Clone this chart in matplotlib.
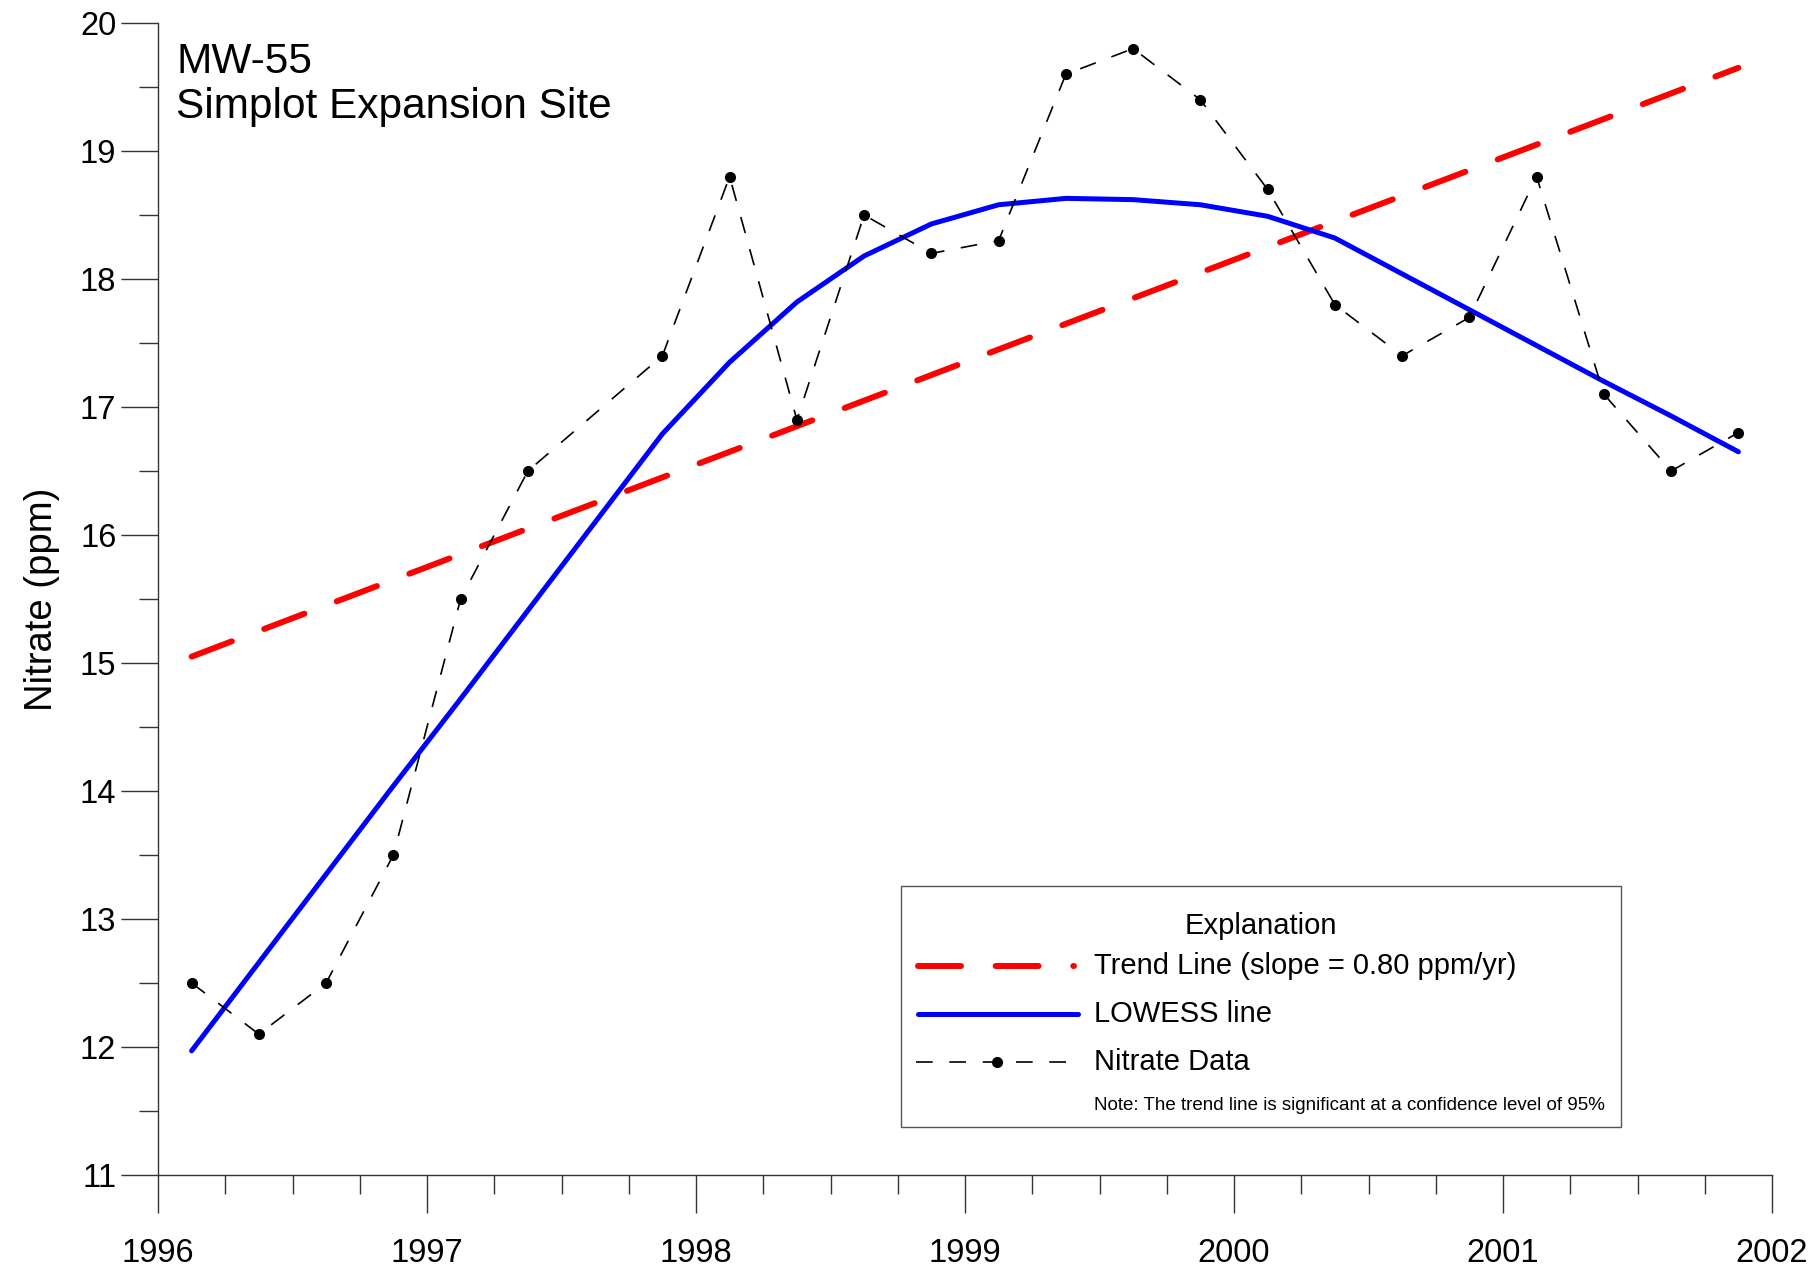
import matplotlib
matplotlib.use("Agg")
import matplotlib.pyplot as plt
from matplotlib.lines import Line2D
from matplotlib.patches import Rectangle
from matplotlib import font_manager

# ---------------- data ----------------
dates = [1996.125, 1996.375, 1996.625, 1996.875, 1997.125, 1997.375, 1997.875,
         1998.125, 1998.375, 1998.625, 1998.875, 1999.125, 1999.375, 1999.625,
         1999.875, 2000.125, 2000.375, 2000.625, 2000.875, 2001.125, 2001.375,
         2001.625, 2001.875]
nitrate = [12.5, 12.1, 12.5, 13.5, 15.5, 16.5, 17.4, 18.8, 16.9, 18.5, 18.2, 18.3,
           19.6, 19.8, 19.4, 18.7, 17.8, 17.4, 17.7, 18.8, 17.1, 16.5, 16.8]
lowess = [11.97, 12.66, 13.35, 14.04, 14.72, 15.41, 16.79, 17.35, 17.82, 18.18,
          18.43, 18.58, 18.63, 18.62, 18.58, 18.49, 18.32, 18.04, 17.76, 17.48,
          17.20, 16.93, 16.65]
trend_x = [1996.125, 2001.875]
trend_y = [15.05, 19.65]
x_ticks = [1996, 1997, 1998, 1999, 2000, 2001, 2002]
y_ticks = [11, 12, 13, 14, 15, 16, 17, 18, 19, 20]

title_lines = ["MW-55", "Simplot Expansion Site"]
legend_title = "Explanation"
legend_labels = ["Trend Line (slope = 0.80 ppm/yr)", "LOWESS line", "Nitrate Data"]
note = "Note: The trend line is significant at a confidence level of 95%"

# ---------------- fonts ----------------
avail = {f.name for f in font_manager.fontManager.ttflist}
main_font = "Liberation Sans" if "Liberation Sans" in avail else "DejaVu Sans"
narrow_font = "Liberation Sans Narrow" if "Liberation Sans Narrow" in avail else main_font
plt.rcParams['font.family'] = [main_font, 'DejaVu Sans']

W, H = 1818, 1273
fig = plt.figure(figsize=(W / 100, H / 100), dpi=100)

def fx(px):
    return px / W

def fy(py):
    return 1 - py / H

ax = fig.add_axes([fx(158), fy(1175), fx(1772) - fx(158), fy(23) - fy(1175)])

ax.set_xlim(1996, 2002)
ax.set_ylim(11, 20)

for s in ['top', 'right']:
    ax.spines[s].set_visible(False)
for s in ['left', 'bottom']:
    ax.spines[s].set_color('#333333')
    ax.spines[s].set_linewidth(1.0)

ax.set_xticks(x_ticks)
ax.set_xticklabels([str(v) for v in x_ticks])
ax.set_xticks([x + q for x in x_ticks[:-1] for q in (0.25, 0.5, 0.75)], minor=True)
ax.set_yticks(y_ticks)
ax.set_yticklabels([str(v) for v in y_ticks])
ax.set_yticks([y + 0.5 for y in y_ticks[:-1]], minor=True)

ax.tick_params(which='major', direction='out', length=27, width=1.0, color='#333333',
               labelsize=23.5, pad=3)
ax.tick_params(which='minor', direction='out', length=14, width=1.0, color='#333333')
ax.tick_params(axis='x', which='major', pad=18)

ax.set_ylabel("Nitrate (ppm)", fontsize=27.5, labelpad=14)

# ---------------- series ----------------
lw_tr = 4.3
ax.plot(trend_x, trend_y, color='#ff0000', lw=lw_tr, solid_capstyle='round',
        dash_capstyle='round', linestyle=(0, (7.2, 5.8)), zorder=3)
ax.plot(dates, lowess, color='#0000ff', lw=3.6, solid_capstyle='round', zorder=4)
ax.plot(dates, nitrate, color='black', lw=1.2, linestyle=(0, (10, 10)),
        marker='o', markersize=7, markerfacecolor='black', markeredgecolor='black',
        zorder=5)

# ---------------- title ----------------
ax.text(fx(176), fy(42), title_lines[0], transform=fig.transFigure, fontsize=30.5,
        va='top', ha='left')
ax.text(fx(176), fy(87), title_lines[1], transform=fig.transFigure, fontsize=30.5,
        va='top', ha='left')

# ---------------- legend (drawn manually) ----------------
fig.patches.append(Rectangle((fx(901), fy(1127)), fx(1621) - fx(901), fy(886) - fy(1127),
                             transform=fig.transFigure, facecolor='white',
                             edgecolor='#555555', lw=1.0, zorder=10))
fig.text(fx(1261), fy(926), legend_title, fontsize=21, family=[narrow_font, 'DejaVu Sans'],
         ha='center', va='center', zorder=11)
ys = [966, 1014, 1062]
fig.lines.append(Line2D([fx(918), fx(1074)], [fy(ys[0])] * 2, transform=fig.transFigure,
                        color='#ff0000', lw=lw_tr, dash_capstyle='round',
                        linestyle=(0, (7.2, 5.8)), zorder=11))
fig.lines.append(Line2D([fx(918), fx(1078)], [fy(ys[1])] * 2, transform=fig.transFigure,
                        color='#0000ff', lw=3.6, solid_capstyle='round', zorder=11))
fig.lines.append(Line2D([fx(916), fx(1078)], [fy(ys[2])] * 2, transform=fig.transFigure,
                        color='black', lw=1.2, linestyle=(0, (10, 10)), zorder=11))
fig.lines.append(Line2D([fx(997)], [fy(ys[2])], transform=fig.transFigure,
                        color='black', marker='o', markersize=7, linestyle='none',
                        zorder=12))
for y, lab in zip(ys, legend_labels):
    fig.text(fx(1094), fy(y), lab, fontsize=21, family=[narrow_font, 'DejaVu Sans'],
             ha='left', va='center', zorder=11)
fig.text(fx(1094), fy(1105), note, fontsize=13.5, family=[narrow_font, 'DejaVu Sans'],
         ha='left', va='center', zorder=11)

fig.savefig("out.png", dpi=100, facecolor='white')
